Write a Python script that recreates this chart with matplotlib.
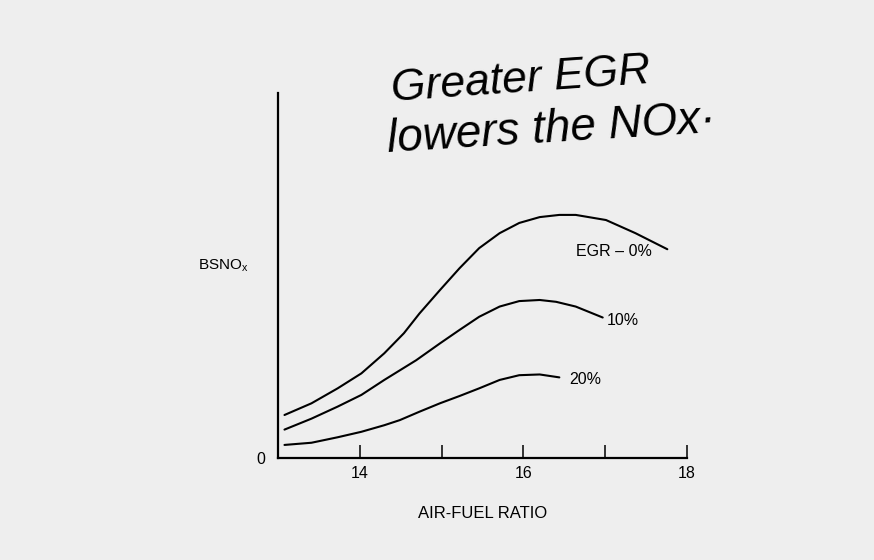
import numpy as np
import matplotlib.pyplot as plt

# air-fuel ratio vs BSNOx (arbitrary units, 0..100 is the axis height)
afr_0 = [13.08, 13.41, 13.73, 14.02, 14.30, 14.54, 14.73, 14.98, 15.22, 15.46, 15.71, 15.95,
         16.20, 16.44, 16.64, 17.01, 17.37, 17.76]
nox_0 = [11.8, 15.0, 19.1, 23.2, 28.7, 34.2, 39.6, 46.0, 52.0, 57.5, 61.6, 64.4,
         66.0, 66.6, 66.6, 65.2, 61.6, 57.2]

afr_10 = [13.08, 13.41, 13.73, 14.02, 14.30, 14.69, 14.98, 15.22, 15.46, 15.71, 15.95,
          16.20, 16.40, 16.64, 16.97]
nox_10 = [7.8, 10.8, 14.1, 17.3, 21.4, 26.8, 31.4, 35.1, 38.7, 41.5, 43.0,
          43.3, 42.8, 41.5, 38.5]

afr_20 = [13.08, 13.41, 13.73, 14.02, 14.30, 14.49, 14.73, 14.98, 15.22, 15.46, 15.71,
          15.95, 16.20, 16.44]
nox_20 = [3.6, 4.2, 5.7, 7.2, 9.0, 10.4, 12.7, 15.0, 17.0, 19.1, 21.4,
          22.7, 22.9, 22.1]

labels = ['EGR \u2013 0%', '10%', '20%']
xticks = [14, 15, 16, 17, 18]
xticklabels = ['14', '', '16', '', '18']

bg = '#eeeeee'
fig = plt.figure(figsize=(8.74, 5.6), dpi=100, facecolor=bg)
ax = fig.add_axes([0.318, 0.182, 0.468, 0.652])
ax.set_facecolor(bg)

for xs, ys in [(afr_0, nox_0), (afr_10, nox_10), (afr_20, nox_20)]:
    ax.plot(xs, ys, color='black', lw=1.5, solid_capstyle='round', solid_joinstyle='round')

sans = ['Liberation Sans', 'DejaVu Sans']
ax.text(17.11, 56.7, labels[0], fontsize=11.5, family=sans, ha='center', va='center')
ax.text(17.02, 37.8, labels[1], fontsize=11.5, family=sans, ha='left', va='center')
ax.text(16.56, 21.4, labels[2], fontsize=11.5, family=sans, ha='left', va='center')

ax.set_xlim(13, 18)
ax.set_ylim(0, 100)
for s in ['top', 'right']:
    ax.spines[s].set_visible(False)
for s in ['left', 'bottom']:
    ax.spines[s].set_linewidth(1.6)
ax.set_xticks(xticks)
ax.set_xticklabels(xticklabels, fontsize=11.5, family=sans)
ax.set_yticks([0])
ax.set_yticklabels(['0'], fontsize=11.5, family=sans)
ax.tick_params(axis='x', direction='in', length=9.5, width=1.1, pad=6)
ax.tick_params(axis='y', length=0, pad=9)

ax.set_xlabel('AIR-FUEL RATIO', fontsize=12, family=sans, labelpad=18)
fig.text(0.2265, 0.525, 'BSNO$_\\mathregular{x}$', fontsize=11, family=sans,
         ha='left', va='center')

# handwritten note
fig.text(0.4485, 0.8196, 'Greater EGR', fontsize=32, family=sans, style='italic',
         rotation=4, rotation_mode='anchor', ha='left', va='baseline')
fig.text(0.444, 0.7286, 'lowers the NOx\u00b7', fontsize=33, family=sans, style='italic',
         rotation=3.5, rotation_mode='anchor', ha='left', va='baseline')

fig.savefig('out.png', dpi=100, facecolor=bg)
